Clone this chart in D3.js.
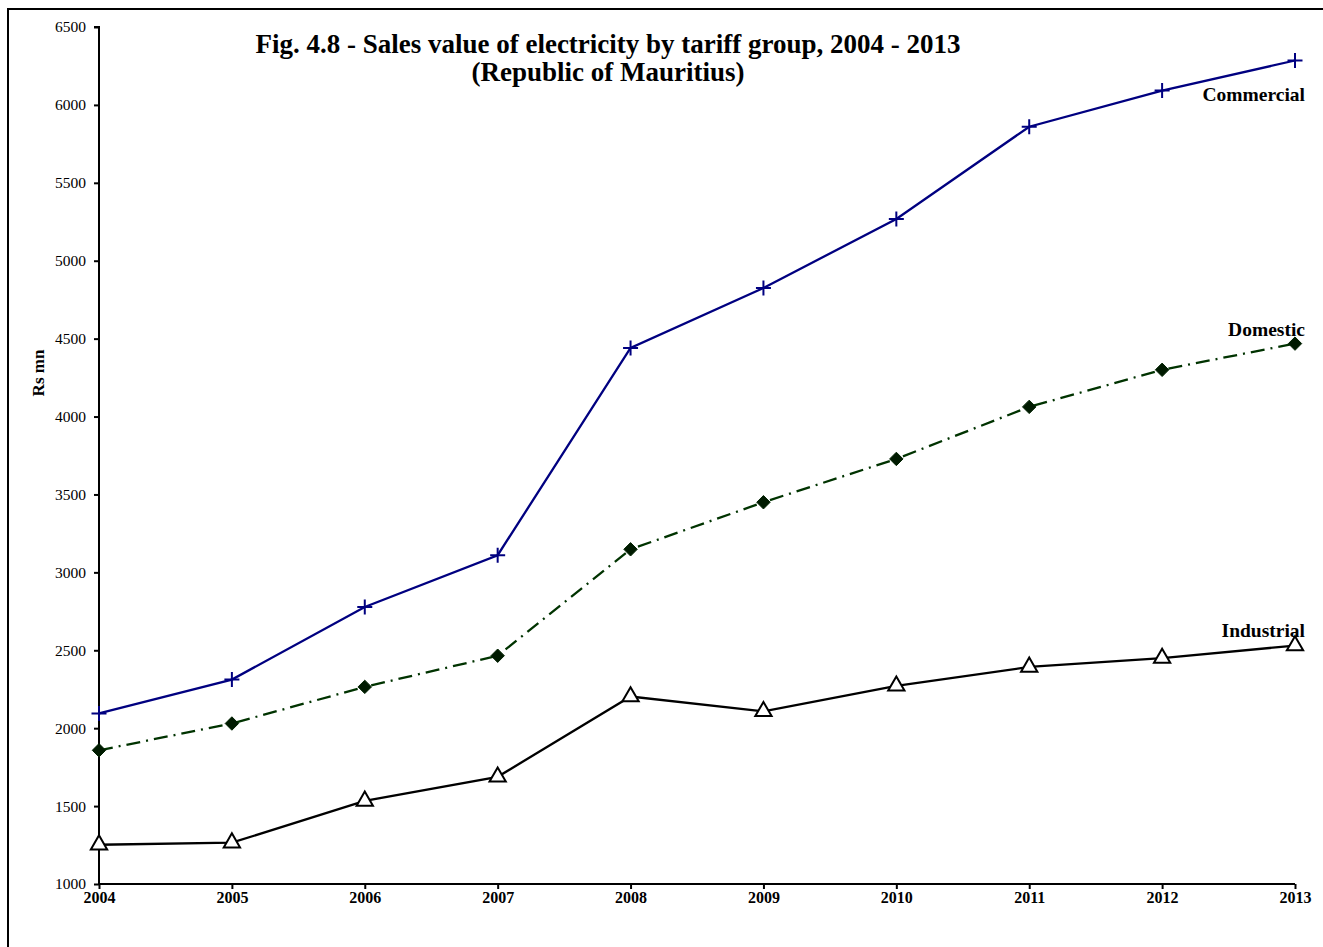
<!DOCTYPE html>
<html>
<head>
<meta charset="utf-8">
<script src="https://cdn.jsdelivr.net/npm/d3@7"></script>
<style>
  html, body { margin: 0; padding: 0; background: #fff; }
  svg { display: block; }
  text { font-family: "Liberation Serif", "Times New Roman", serif; }
</style>
</head>
<body>
<svg id="chart" width="1323" height="947"></svg>
<script>
// Sales value of electricity by tariff group (Rs mn)
const years = [2004, 2005, 2006, 2007, 2008, 2009, 2010, 2011, 2012, 2013];
const commercial = [2095, 2312, 2778, 3110, 4440, 4825, 5268, 5860, 6092, 6285];
const domestic   = [1858, 2030, 2265, 2465, 3148, 3450, 3728, 4062, 4300, 4468];
const industrial = [1252, 1265, 1533, 1688, 2203, 2108, 2272, 2393, 2450, 2530];
const yTicks = [1000, 1500, 2000, 2500, 3000, 3500, 4000, 4500, 5000, 5500, 6000, 6500];
const titleLines = ["Fig. 4.8 - Sales value of electricity by tariff group, 2004 - 2013",
                    "(Republic of Mauritius)"];

const svg = d3.select("#chart");
const W = 1323, H = 947;

// outer frame
svg.append("rect")
  .attr("x", 8).attr("y", 9).attr("width", W).attr("height", H)
  .attr("fill", "none").attr("stroke", "#000").attr("stroke-width", 2);

const x = d3.scalePoint().domain(years).range([99, 1295]);
const y = d3.scaleLinear().domain([1000, 6500]).range([884, 27]);

// axes
const yAxis = d3.axisLeft(y).tickValues(yTicks).tickSize(5).tickPadding(8).tickFormat(d3.format("d"));
const gy = svg.append("g").attr("transform", "translate(99,0)").call(yAxis);
gy.select(".domain").attr("stroke-width", 2).attr("d", `M-5,${y(6500)}H0V${y(1000)}`);
gy.selectAll(".tick line").attr("stroke-width", 2);
gy.selectAll(".tick text").attr("font-size", 15.5).attr("fill", "#000")
  .style("font-family", "'Liberation Serif', serif");

const xAxis = d3.axisBottom(x).tickSize(5).tickPadding(3).tickFormat(d3.format("d"));
const gx = svg.append("g").attr("transform", "translate(0,884)").call(xAxis);
gx.select(".domain").attr("stroke-width", 2).attr("d", `M${x(2004)},0H${x(2013)}`);
gx.selectAll(".tick line").attr("stroke-width", 2);
gx.selectAll(".tick text").attr("font-size", 16).attr("font-weight", "bold").attr("fill", "#000")
  .style("font-family", "'Liberation Serif', serif");

// y-axis title
svg.append("text")
  .attr("transform", "translate(44,373) rotate(-90)")
  .attr("text-anchor", "middle")
  .attr("font-size", 17).attr("font-weight", "bold")
  .text("Rs mn");

// title
svg.selectAll("text.title").data(titleLines).join("text")
  .attr("class", "title")
  .attr("x", 608).attr("y", (d, i) => 53 + i * 28)
  .attr("text-anchor", "middle")
  .attr("font-size", 27).attr("font-weight", "bold")
  .text(d => d);

const line = d3.line().x((d, i) => x(years[i])).y(d => y(d));

// Industrial
svg.append("path").datum(industrial)
  .attr("d", line).attr("fill", "none").attr("stroke", "#000").attr("stroke-width", 2.3);
svg.selectAll("path.tri").data(industrial).join("path")
  .attr("class", "tri")
  .attr("transform", (d, i) => `translate(${x(years[i])},${y(d)})`)
  .attr("d", d3.symbol(d3.symbolTriangle, 115))
  .attr("fill", "#fff").attr("stroke", "#000").attr("stroke-width", 2);

// Domestic
svg.append("path").datum(domestic)
  .attr("d", line).attr("fill", "none").attr("stroke", "#003300").attr("stroke-width", 2.3)
  .attr("stroke-dasharray", "14,6,2,6");
svg.selectAll("path.dia").data(domestic).join("path")
  .attr("class", "dia")
  .attr("transform", (d, i) => `translate(${x(years[i])},${y(d)})`)
  .attr("d", d3.symbol(d3.symbolDiamond2, 115))
  .attr("fill", "#001a00").attr("stroke", "#002200").attr("stroke-width", 1);

// Commercial
svg.append("path").datum(commercial)
  .attr("d", line).attr("fill", "none").attr("stroke", "#000080").attr("stroke-width", 2.3);
svg.selectAll("path.plus").data(commercial).join("path")
  .attr("class", "plus")
  .attr("transform", (d, i) => `translate(${x(years[i])},${y(d)})`)
  .attr("d", "M-7.5,0H7.5M0,-7.5V7.5")
  .attr("fill", "none").attr("stroke", "#000080").attr("stroke-width", 2);

// series labels
const seriesLabels = [
  { name: "Commercial", last: commercial[9], dy: 40 },
  { name: "Domestic", last: domestic[9], dy: -8 },
  { name: "Industrial", last: industrial[9], dy: -9 }
];
svg.selectAll("text.slabel").data(seriesLabels).join("text")
  .attr("class", "slabel")
  .attr("x", 1305).attr("y", d => y(d.last) + d.dy)
  .attr("text-anchor", "end")
  .attr("font-size", 19.5).attr("font-weight", "bold")
  .text(d => d.name);
</script>
</body>
</html>
